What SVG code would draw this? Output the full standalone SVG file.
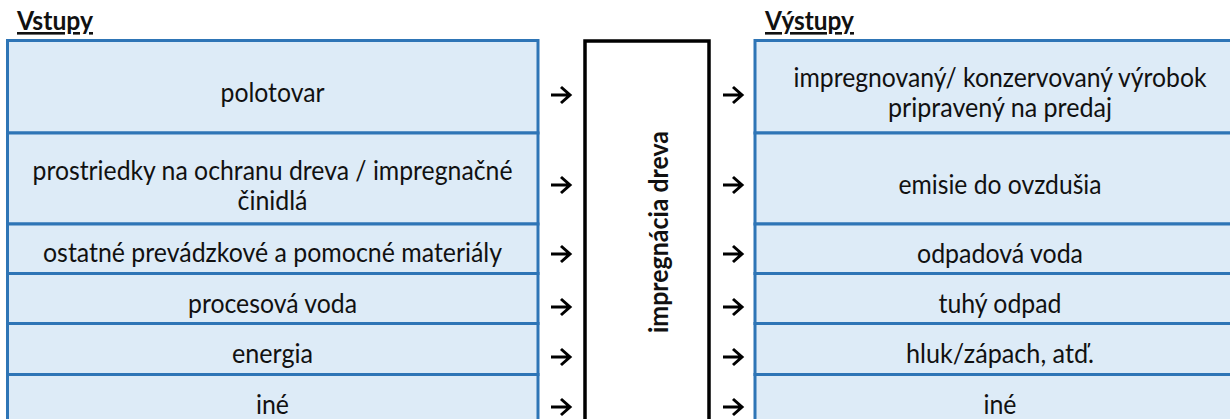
<svg xmlns="http://www.w3.org/2000/svg" xmlns:xlink="http://www.w3.org/1999/xlink" width="1230" height="419" viewBox="0 0 1230 419">
<style>
.cell{fill:#DDEBF7;stroke:#2E75B6;stroke-width:3}
.t{font-family:Lato,"Liberation Sans",Arial,sans-serif;font-size:26px;fill:#111;text-anchor:middle}
.h{font-family:Lato,"Liberation Sans",Arial,sans-serif;font-size:26px;font-weight:bold;fill:#111;text-decoration:underline}
.c{font-family:Lato,"Liberation Sans",Arial,sans-serif;font-size:27px;font-weight:bold;fill:#111;text-anchor:middle}
.arr{fill:none;stroke:#000;stroke-width:3;stroke-linejoin:miter}
</style>
<defs>
<path id="arrow" class="arr" d="M0,0 H19 M10,-8 L19,0 L10,8"/>
</defs>
<rect width="1230" height="419" fill="#fff"/>

<g id="header-vstupy"><text class="h" x="17" y="30" textLength="76" lengthAdjust="spacingAndGlyphs">Vstupy</text></g>
<g id="header-vystupy"><text class="h" x="765" y="30" textLength="89" lengthAdjust="spacingAndGlyphs">Výstupy</text></g>

<g id="inputs">
<g id="in-polotovar"><rect class="cell" x="7.5" y="40.5" width="530.5" height="92.5"/><text class="t" x="272.5" y="102" textLength="104" lengthAdjust="spacingAndGlyphs">polotovar</text></g>
<g id="in-prostriedky"><rect class="cell" x="7.5" y="133" width="530.5" height="91"/><text class="t" x="272.5" y="180" textLength="480" lengthAdjust="spacingAndGlyphs">prostriedky na ochranu dreva / impregnačné</text><text class="t" x="272.5" y="210" textLength="70" lengthAdjust="spacingAndGlyphs">činidlá</text></g>
<g id="in-ostatne"><rect class="cell" x="7.5" y="224" width="530.5" height="49.5"/><text class="t" x="272.5" y="262" textLength="459" lengthAdjust="spacingAndGlyphs">ostatné prevádzkové a pomocné materiály</text></g>
<g id="in-voda"><rect class="cell" x="7.5" y="273.5" width="530.5" height="50"/><text class="t" x="272.5" y="313" textLength="169" lengthAdjust="spacingAndGlyphs">procesová voda</text></g>
<g id="in-energia"><rect class="cell" x="7.5" y="323.5" width="530.5" height="51"/><text class="t" x="272.5" y="363" textLength="81" lengthAdjust="spacingAndGlyphs">energia</text></g>
<g id="in-ine"><rect class="cell" x="7.5" y="374.5" width="530.5" height="60"/><text class="t" x="272.5" y="414" textLength="33" lengthAdjust="spacingAndGlyphs">iné</text></g>
</g>

<g id="process"><rect x="585" y="41" width="124" height="400" fill="#fff" stroke="#000" stroke-width="3.5"/><text class="c" transform="translate(668,232) rotate(-90)" x="0" y="0" textLength="202" lengthAdjust="spacingAndGlyphs">impregnácia dreva</text></g>

<g id="outputs">
<g id="out-vyrobok"><rect class="cell" x="755" y="40.5" width="490" height="92.5"/><text class="t" x="1000" y="87" textLength="413" lengthAdjust="spacingAndGlyphs">impregnovaný/ konzervovaný výrobok</text><text class="t" x="1000" y="117" textLength="224" lengthAdjust="spacingAndGlyphs">pripravený na predaj</text></g>
<g id="out-emisie"><rect class="cell" x="755" y="133" width="490" height="91"/><text class="t" x="1000" y="194" textLength="203" lengthAdjust="spacingAndGlyphs">emisie do ovzdušia</text></g>
<g id="out-odpadova"><rect class="cell" x="755" y="224" width="490" height="49.5"/><text class="t" x="1000" y="263" textLength="166" lengthAdjust="spacingAndGlyphs">odpadová voda</text></g>
<g id="out-tuhy"><rect class="cell" x="755" y="273.5" width="490" height="50"/><text class="t" x="1000" y="313" textLength="123" lengthAdjust="spacingAndGlyphs">tuhý odpad</text></g>
<g id="out-hluk"><rect class="cell" x="755" y="323.5" width="490" height="51"/><text class="t" x="1000" y="363" textLength="188" lengthAdjust="spacingAndGlyphs">hluk/zápach, atď.</text></g>
<g id="out-ine"><rect class="cell" x="755" y="374.5" width="490" height="60"/><text class="t" x="1000" y="414" textLength="33" lengthAdjust="spacingAndGlyphs">iné</text></g>
</g>

<g id="connectors">
<use xlink:href="#arrow" x="551" y="95"/>
<use xlink:href="#arrow" x="551" y="185"/>
<use xlink:href="#arrow" x="551" y="254"/>
<use xlink:href="#arrow" x="551" y="307"/>
<use xlink:href="#arrow" x="551" y="357"/>
<use xlink:href="#arrow" x="551" y="407"/>
<use xlink:href="#arrow" x="723" y="95"/>
<use xlink:href="#arrow" x="723" y="185"/>
<use xlink:href="#arrow" x="723" y="254"/>
<use xlink:href="#arrow" x="723" y="307"/>
<use xlink:href="#arrow" x="723" y="357"/>
<use xlink:href="#arrow" x="723" y="407"/>
</g>
</svg>
